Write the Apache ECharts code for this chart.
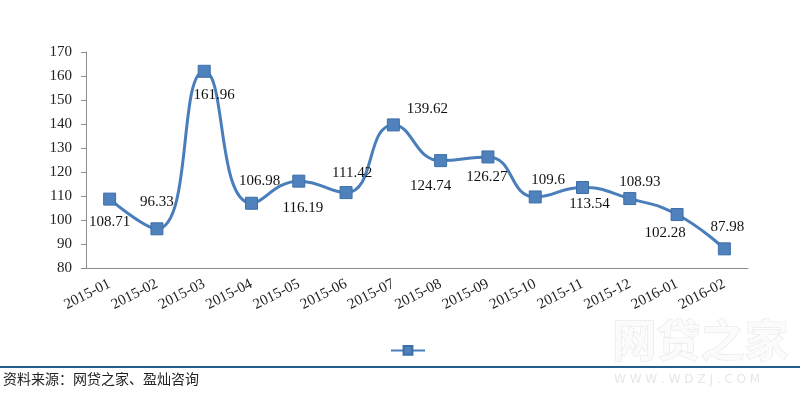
<!DOCTYPE html>
<html>
<head>
<meta charset="utf-8">
<script src="https://cdn.jsdelivr.net/npm/echarts@6/dist/echarts.min.js"></script>
<style>
  html, body { margin: 0; padding: 0; background: #fff; }
  #chart { width: 800px; height: 397px; }
</style>
</head>
<body>
<div id="chart"></div>
<script>
// 月份
const months = ["2015-01", "2015-02", "2015-03", "2015-04", "2015-05", "2015-06", "2015-07",
  "2015-08", "2015-09", "2015-10", "2015-11", "2015-12", "2016-01", "2016-02"];
// 数值
const values = [108.71, 96.33, 161.96, 106.98, 116.19, 111.42, 139.62,
  124.74, 126.27, 109.6, 113.54, 108.93, 102.28, 87.98];
// 标签偏移 (相对于点)
const labelOffsets = [[0, 23], [0, -27], [10, 24], [8, -22], [4, 27], [6, -20], [34, -16],
  [-10, 25], [-1, 20], [13, -17], [7, 17], [10, -17], [-12, 19], [3, -22]];

const serif = "'Liberation Serif', 'DejaVu Serif', serif";
const axisColor = "#8c8c8c";

const chart = echarts.init(document.getElementById("chart"));

const option = {
  animation: false,
  backgroundColor: "#fff",
  grid: { left: 86, right: 52, top: 52, bottom: 129 },
  legend: {
    left: 385,
    top: 340,
    itemWidth: 34,
    itemHeight: 11,
    data: [" "],
    textStyle: { fontSize: 1 }
  },
  xAxis: {
    type: "category",
    data: months,
    axisLine: { lineStyle: { color: axisColor, width: 1 } },
    axisTick: { length: 6, lineStyle: { color: axisColor } },
    axisLabel: {
      rotate: 27,
      margin: 15,
      color: "#222",
      fontFamily: serif,
      fontSize: 15,
      interval: 0
    }
  },
  yAxis: {
    type: "value",
    min: 80,
    max: 170,
    interval: 10,
    splitLine: { show: false },
    axisLine: { show: true, lineStyle: { color: axisColor, width: 1 } },
    axisTick: { show: true, length: 5, lineStyle: { color: axisColor } },
    axisLabel: { color: "#222", fontFamily: serif, fontSize: 15, margin: 14 }
  },
  series: [
    {
      name: " ",
      type: "line",
      smooth: 0.5,
      symbol: "rect",
      symbolSize: 12,
      lineStyle: { color: "#4a7ebb", width: 3 },
      itemStyle: { color: "#4f81bd", borderColor: "#3c6fa8", borderWidth: 1 },
      data: values.map((v, i) => ({
        value: v,
        label: {
          show: true,
          position: ["50%", "50%"],
          align: "center",
          verticalAlign: "middle",
          offset: labelOffsets[i],
          color: "#111",
          fontFamily: serif,
          fontSize: 15,
          formatter: String(v)
        }
      }))
    }
  ],
  graphic: [
    {
      type: "text",
      left: 612,
      top: 318,
      z: 0,
      style: {
        text: "网贷之家",
        font: "bold 44px 'Noto Sans CJK SC'",
        fill: "#fbfbfb",
        stroke: "#e4e4e4",
        lineWidth: 1
      }
    },
    {
      type: "text",
      left: 614,
      top: 374,
      z: 0,
      style: {
        text: "W W W . W D Z J . C O M",
        font: "12px 'DejaVu Sans'",
        fill: "#e6e6e6"
      }
    },
    {
      type: "line",
      z: 5,
      shape: { x1: 0, y1: 367, x2: 800, y2: 367 },
      style: { stroke: "#245d8c", lineWidth: 2 }
    },
    {
      type: "text",
      left: 3,
      top: 372,
      style: {
        text: "资料来源：网贷之家、盈灿咨询",
        font: "14px 'Noto Sans CJK SC'",
        fill: "#222"
      }
    }
  ]
};

chart.setOption(option);
</script>
</body>
</html>
